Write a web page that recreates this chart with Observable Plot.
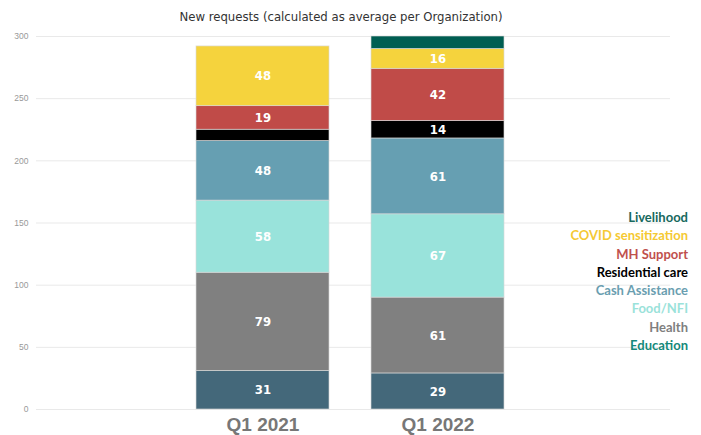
<!DOCTYPE html>
<html>
<head>
<meta charset="utf-8">
<script src="https://cdn.jsdelivr.net/npm/d3@7"></script>
<script src="https://cdn.jsdelivr.net/npm/@observablehq/plot@0.6"></script>
<style>
  html, body { margin: 0; padding: 0; background: #fff; }
  #wrap { position: relative; width: 701px; height: 435px; overflow: hidden; }
  #title { position: absolute; left: 0; top: 7px; width: 682px; text-align: center;
    font-family: "DejaVu Sans Condensed", sans-serif; font-size: 13px; color: #333; line-height: 20px; }
  #legend { position: absolute; right: 13px; top: 208px; text-align: right;
    font-family: Lato, "Noto Sans", sans-serif; font-weight: bold; font-size: 13px; line-height: 18.3px; }
</style>
</head>
<body>
<div id="wrap">
  <div id="chart"></div>
  <div id="title"></div>
  <div id="legend"></div>
</div>
<script>
const titleText = "New requests (calculated as average per Organization)";
const quarters = ["Q1 2021", "Q1 2022"];
const categories = ["Education", "Health", "Food/NFI", "Cash Assistance", "Residential care", "MH Support", "COVID sensitization", "Livelihood"];
const values2021 = [31, 79, 58, 48, 9, 19, 48, 0];
const values2022 = [29, 61, 67, 61, 14, 42, 16, 10];
const barColors = ["#44687a", "#808080", "#99e3db", "#669fb2", "#000000", "#c04b48", "#f5d33d", "#005e52"];
const legendOrder = ["Livelihood", "COVID sensitization", "MH Support", "Residential care", "Cash Assistance", "Food/NFI", "Health", "Education"];
const legendColors = {
  "Livelihood": "#17695e",
  "COVID sensitization": "#f5c933",
  "MH Support": "#c0504d",
  "Residential care": "#000000",
  "Cash Assistance": "#6a9eb0",
  "Food/NFI": "#9ae2da",
  "Health": "#7f7f7f",
  "Education": "#15897a"
};
const yTicks = [0, 50, 100, 150, 200, 250, 300];

const data = [];
[values2021, values2022].forEach((vals, qi) => {
  categories.forEach((c, ci) => data.push({quarter: quarters[qi], category: c, value: vals[ci]}));
});

const chart = Plot.plot({
  width: 701,
  height: 435,
  marginTop: 36,
  marginBottom: 26,
  marginLeft: 36,
  marginRight: 31,
  style: {background: "transparent"},
  x: {domain: quarters, paddingInner: 0.2386, paddingOuter: 0.922, align: 0.49, label: null},
  y: {domain: [0, 300], label: null},
  color: {domain: categories, range: barColors},
  marks: [
    Plot.gridY(yTicks, {stroke: "#e9e9e9", strokeOpacity: 1, strokeWidth: 1}),
    Plot.axisY(yTicks, {tickSize: 0, tickPadding: 8, fontSize: 8.5, fill: "#999", fontFamily: "Liberation Sans, sans-serif", label: null}),
    Plot.axisX({tickSize: 0, tickPadding: 8, fontSize: 19, fontWeight: "bold", fill: "#777", fontFamily: "Liberation Sans, Arial, sans-serif", label: null}),
    Plot.barY(data, Plot.stackY({x: "quarter", y: "value", z: "category", fill: "category", order: null, stroke: "#d8d8d8", strokeWidth: 0.8, strokeOpacity: 0.8})),
    Plot.text(data, Plot.stackY({x: "quarter", y: "value", z: "category", order: null,
      text: d => d.value >= 12 ? String(d.value) : "",
      fill: "white", fontSize: 13, fontWeight: "bold",
      fontFamily: "DejaVu Sans Condensed, sans-serif"}))
  ]
});
document.getElementById("chart").appendChild(chart);
document.getElementById("title").textContent = titleText;
const legend = document.getElementById("legend");
legendOrder.forEach(c => {
  const d = document.createElement("div");
  d.textContent = c;
  d.style.color = legendColors[c];
  legend.appendChild(d);
});
</script>
</body>
</html>
